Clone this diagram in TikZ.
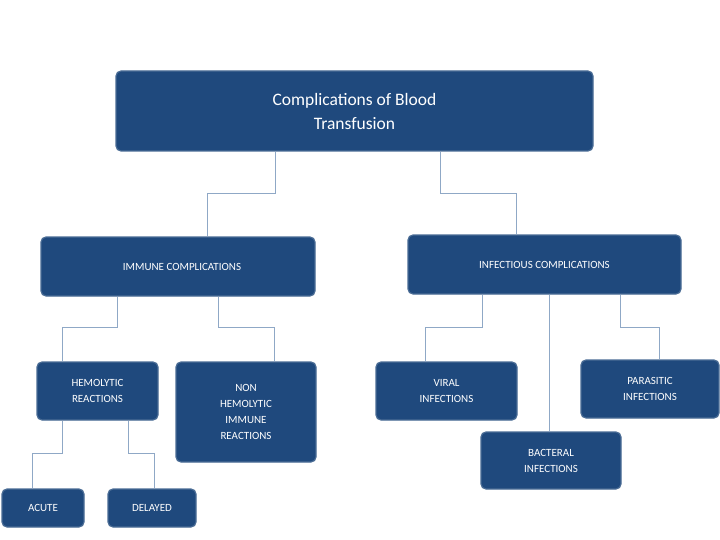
\documentclass[tikz,border=0pt]{standalone}
\usepackage{fontspec}
\setmainfont{Carlito}
\begin{document}
\begin{tikzpicture}[x=1pt,y=-1pt,
 box/.style={draw=boxedge,line width=1.2pt,fill=boxfill,rounded corners=5pt,text=white,align=center,inner sep=0pt,font=\fontsize{11}{16}\selectfont},
 conn/.style={draw=connc,line width=0.7pt}]
\definecolor{boxfill}{HTML}{1F497D}
\definecolor{boxedge}{HTML}{4A6C95}
\definecolor{connc}{HTML}{8FA8C6}
\useasboundingbox (0,0) rectangle (720,540);
\node[box,minimum width=477pt,minimum height=80pt,font=\fontsize{17.5}{24}\selectfont] (top) at (354.5,111) {Complications of Blood\\Transfusion};
\node[box,minimum width=274pt,minimum height=59pt] (imm) at (178,266.5) {\hspace*{8pt}IMMUNE COMPLICATIONS};
\node[box,minimum width=273pt,minimum height=59pt] (inf) at (544.5,264.5) {INFECTIOUS COMPLICATIONS};
\node[box,minimum width=121pt,minimum height=58pt] (hem) at (97.5,391) {HEMOLYTIC\\REACTIONS};
\node[box,minimum width=140pt,minimum height=100pt] (non) at (246,412) {NON\\HEMOLYTIC\\IMMUNE\\REACTIONS};
\node[box,minimum width=141pt,minimum height=58pt] (vir) at (446.5,391) {VIRAL\\INFECTIONS};
\node[box,minimum width=138pt,minimum height=58pt] (par) at (650,389) {PARASITIC\\INFECTIONS};
\node[box,minimum width=140pt,minimum height=57pt] (bac) at (551,460.5) {BACTERAL\\INFECTIONS};
\node[box,minimum width=82pt,minimum height=38pt] (acu) at (43,508) {ACUTE};
\node[box,minimum width=88pt,minimum height=38pt] (del) at (152,508) {DELAYED};
\coordinate (x1) at (275,0); \coordinate (x2) at (440,0);
\coordinate (x3) at (117,0); \coordinate (x4) at (218,0);
\coordinate (x5) at (482,0); \coordinate (x6) at (549,0); \coordinate (x7) at (620,0);
\coordinate (x8) at (62,0); \coordinate (x9) at (128,0);
\coordinate (x10) at (32,0); \coordinate (x11) at (154,0);
\coordinate (x12) at (425,0); \coordinate (x13) at (659,0);
\coordinate (x14) at (207,0); \coordinate (x15) at (516,0); \coordinate (x16) at (274,0);
\draw[conn] (top.south -| x1) |- (207,193) -- (imm.north -| x14);
\draw[conn] (top.south -| x2) |- (516,193) -- (inf.north -| x15);
\draw[conn] (imm.south -| x3) |- (62,327) -- (hem.north -| x8);
\draw[conn] (imm.south -| x4) |- (274,327) -- (non.north -| x16);
\draw[conn] (inf.south -| x5) |- (425,327) -- (vir.north -| x12);
\draw[conn] (inf.south -| x6) -- (bac.north -| x6);
\draw[conn] (inf.south -| x7) |- (659,327) -- (par.north -| x13);
\draw[conn] (hem.south -| x8) |- (32,453) -- (acu.north -| x10);
\draw[conn] (hem.south -| x9) |- (154,453) -- (del.north -| x11);
\end{tikzpicture}
\end{document}
